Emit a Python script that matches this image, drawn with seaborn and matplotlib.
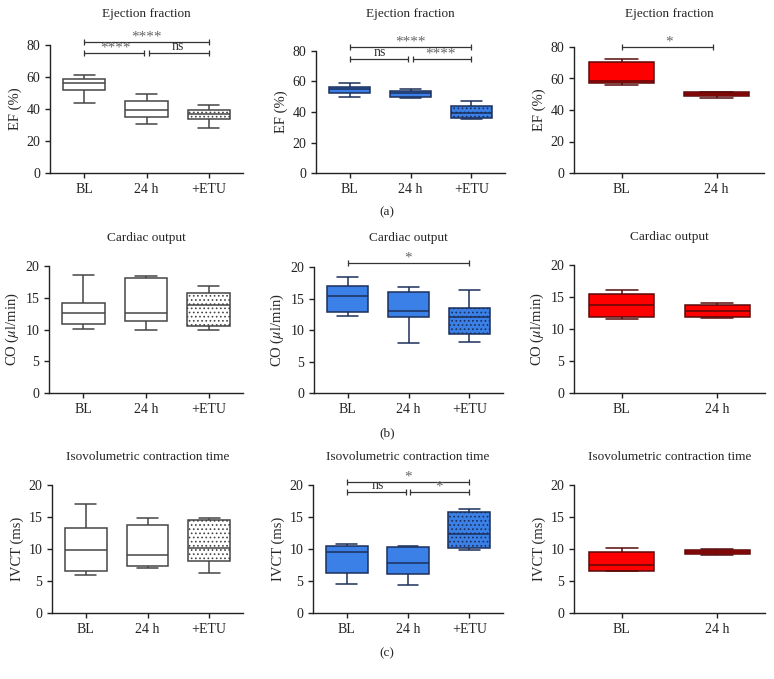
import pandas as pd
import seaborn as sns
import matplotlib.pyplot as plt

groups3 = ["BL", "24 h", "+ETU"]
groups2 = ["BL", "24 h"]

# five-number summaries: min, Q1, median, Q3, max
ef_ctrl = [[43.7, 52.0, 56.1, 59.0, 61.1], [30.4, 35.1, 39.1, 45.3, 49.1], [27.9, 33.7, 37.0, 39.3, 42.4]]
ef_blue = [[50.0, 52.6, 54.8, 56.5, 58.7], [49.1, 50.0, 52.4, 53.9, 54.8], [35.2, 36.1, 39.1, 43.9, 47.4]]
ef_red = [[56.1, 57.1, 58.4, 70.3, 72.4], [47.8, 48.7, 49.9, 51.2, 51.4]]

co_ctrl = [[10.1, 10.9, 12.6, 14.2, 18.6], [10.0, 11.3, 12.6, 18.05, 18.5], [10.0, 10.5, 13.9, 15.8, 16.8]]
co_blue = [[12.3, 12.9, 15.4, 17.0, 18.4], [7.9, 12.1, 13.0, 16.0, 16.9], [8.1, 9.3, 12.0, 13.5, 16.3]]
co_red = [[11.5, 11.8, 13.7, 15.5, 16.1], [11.7, 11.9, 12.8, 13.8, 14.0]]

ivct_ctrl = [[5.9, 6.6, 9.9, 13.3, 17.0], [7.1, 7.3, 9.1, 13.8, 14.8], [6.3, 8.1, 10.1, 14.5, 14.8]]
ivct_blue = [[4.5, 6.3, 9.6, 10.4, 10.8], [4.4, 6.1, 7.8, 10.3, 10.5], [9.9, 10.1, 12.3, 15.8, 16.2]]
ivct_red = [[6.5, 6.6, 7.5, 9.6, 10.1], [9.1, 9.2, 9.6, 9.9, 10.0]]

# significance brackets: (from, to, label, height)
ef_ctrl_sig = [(0, 2, "****", 82), (0, 1, "****", 75), (1, 2, "ns", 75)]
ef_blue_sig = [(0, 2, "****", 82.5), (0, 1, "ns", 75), (1, 2, "****", 75)]
ef_red_sig = [(0, 1, "*", 80)]
co_blue_sig = [(0, 2, "*", 20.7)]
ivct_blue_sig = [(0, 2, "*", 20.5), (0, 1, "ns", 18.9), (1, 2, "*", 18.9)]

styles = {
    "ctrl": ("white", "#454545"),
    "blue": ("#3a80e6", "#1c2f5a"),
    "red": ("#fe0000", "#5a0a0a"),
}

sns.set_style("ticks")
plt.rcParams["font.family"] = ["Liberation Serif", "DejaVu Serif"]
plt.rcParams["mathtext.fontset"] = "stix"
plt.rcParams["hatch.linewidth"] = 0.7

W, H = 774, 679
fig = plt.figure(figsize=(W / 100, H / 100), dpi=100)

# (left, top, right, bottom) in pixels, title, ylabel, data, groups, style, ymax, step, brackets, title y
panels = [
    ((50, 45, 243, 173), "Ejection fraction", "EF (%)", ef_ctrl, groups3, "ctrl", 80, 20, ef_ctrl_sig, 14),
    ((316, 51, 505, 173), "Ejection fraction", "EF (%)", ef_blue, groups3, "blue", 80, 20, ef_blue_sig, 14),
    ((574, 47, 764, 173), "Ejection fraction", "EF (%)", ef_red, groups2, "red", 80, 20, ef_red_sig, 14),
    ((49, 266, 243, 393), "Cardiac output", r"CO ($\mu$l/min)", co_ctrl, groups3, "ctrl", 20, 5, [], 238),
    ((314, 267, 503, 393), "Cardiac output", r"CO ($\mu$l/min)", co_blue, groups3, "blue", 20, 5, co_blue_sig, 238),
    ((574, 265, 765, 393), "Cardiac output", r"CO ($\mu$l/min)", co_red, groups2, "red", 20, 5, [], 237),
    ((52, 485, 243, 613), "Isovolumetric contraction time", "IVCT (ms)", ivct_ctrl, groups3, "ctrl", 20, 5, [], 457),
    ((313, 485, 503, 613), "Isovolumetric contraction time", "IVCT (ms)", ivct_blue, groups3, "blue", 20, 5, ivct_blue_sig, 457),
    ((574, 485, 765, 613), "Isovolumetric contraction time", "IVCT (ms)", ivct_red, groups2, "red", 20, 5, [], 457),
]

for (l, t, r, b), title, ylabel, data, groups, style, ymax, step, sig, ty in panels:
    ax = fig.add_axes([l / W, 1 - b / H, (r - l) / W, (b - t) / H])
    df = pd.DataFrame([(g, v) for g, vals in zip(groups, data) for v in vals],
                      columns=["group", "value"])
    fill, edge = styles[style]
    sns.boxplot(data=df, x="group", y="value", order=groups, whis=(0, 100),
                width=0.68, color=fill, linecolor=edge, linewidth=1.1,
                saturation=1, ax=ax)
    if len(groups) == 3:
        ax.patches[2].set_hatch("....")
        ax.set_xlim(-0.55, 2.55)
    else:
        ax.set_xlim(-0.5, 1.5)
    ax.set_ylim(0, ymax)
    ax.set_yticks(range(0, ymax + 1, step))
    ax.set_xlabel("")
    ax.set_ylabel(ylabel, fontsize=10.5, labelpad=3)
    ax.tick_params(labelsize=10, length=3.5, width=1, colors="#222")
    sns.despine(ax=ax)
    for s in ["left", "bottom"]:
        ax.spines[s].set_linewidth(1)
        ax.spines[s].set_color("#222")

    for i, j, lab, yy in sig:
        x1 = i + (0.04 if i == 1 else 0)
        x2 = j - (0.04 if j == 1 else 0)
        ax.plot([x1, x2], [yy, yy], color="#333", lw=0.9, marker="|", ms=5,
                mew=0.9, clip_on=False)
        star = lab != "ns"
        ax.annotate(lab, ((i + j) / 2, yy), xytext=(0, 3.5 if star else 4.5),
                    textcoords="offset points", ha="center", va="center",
                    fontsize=11 if star else 10,
                    color="#666" if star else "#333", annotation_clip=False)

    fig.text((l + r) / 2 / W, 1 - ty / H, title, ha="center", va="center", fontsize=9.5)

for lab, y in [("(a)", 212), ("(b)", 433), ("(c)", 653)]:
    fig.text(387 / W, 1 - y / H, lab, ha="center", va="center", fontsize=9.5)

fig.savefig("out.png", dpi=100)
